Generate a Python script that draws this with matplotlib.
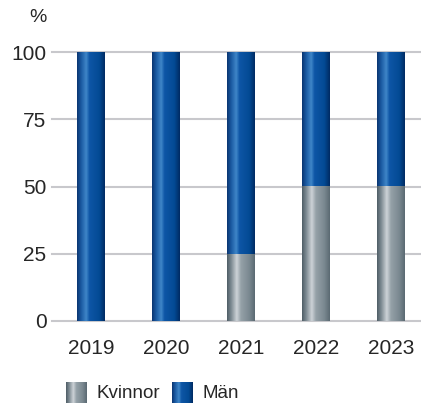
import numpy as np
import matplotlib.pyplot as plt
from matplotlib.colors import LinearSegmentedColormap

years = ["2019", "2020", "2021", "2022", "2023"]
kvinnor = [0, 0, 25, 50, 50]
man = [100, 100, 75, 50, 50]
yticks = [0, 25, 50, 75, 100]

plt.rcParams['font.family'] = ['Liberation Sans', 'DejaVu Sans']

# horizontal gradients to mimic the shaded bars
gray_cmap = LinearSegmentedColormap.from_list("g", [
    (0.0, "#4e5d66"), (0.15, "#7d8a92"), (0.35, "#cdd3d7"),
    (0.5, "#95a1a8"), (0.8, "#7a8890"), (1.0, "#5a6972")])
blue_cmap = LinearSegmentedColormap.from_list("b", [
    (0.0, "#0a3470"), (0.15, "#1a5aa2"), (0.33, "#3f86c8"),
    (0.45, "#0e56a6"), (0.8, "#034a94"), (1.0, "#002a62")])
grad = np.linspace(0, 1, 256).reshape(1, -1)

fig = plt.figure(figsize=(4.21, 4.03), dpi=100)
ax = fig.add_axes([52 / 421, 82 / 403, 369 / 421, 269 / 403])

for y in yticks:
    ax.axhline(y, color="#c8c8cc", lw=1.5, zorder=0, clip_on=False)

w = 0.37
x = np.arange(len(years))
bars_k = ax.bar(x, kvinnor, width=w, color="none")
bars_m = ax.bar(x, man, width=w, bottom=kvinnor, color="none")
for bars, cmap in [(bars_k, gray_cmap), (bars_m, blue_cmap)]:
    for b in bars:
        if b.get_height() <= 0:
            continue
        x0, y0 = b.get_x(), b.get_y()
        ax.imshow(grad, cmap=cmap, aspect="auto", zorder=2,
                  extent=(x0, x0 + b.get_width(), y0, y0 + b.get_height()))
ax.set_xlim(-0.52, 4.4)
ax.set_ylim(0, 100)

ax.set_xticks(x)
ax.set_xticklabels(years, fontsize=15, color="#262626")
ax.set_yticks(yticks)
ax.set_yticklabels([str(v) for v in yticks], fontsize=15, color="#262626")
ax.tick_params(length=0)
ax.tick_params(axis="y", pad=4)
ax.tick_params(axis="x", pad=13)
for s in ax.spines.values():
    s.set_visible(False)

fig.text(47 / 421, 1 - 18 / 403, "%", fontsize=14, color="#262626",
         ha="right", va="center")

# legend with gradient swatches
for px, cmap, label in [(66, gray_cmap, "Kvinnor"), (172, blue_cmap, "Män")]:
    lax = fig.add_axes([px / 421, 0 / 403, 21 / 421, 21 / 403])
    lax.imshow(grad, cmap=cmap, aspect="auto")
    lax.axis("off")
    fig.text((px + 31) / 421, 10 / 403, label, fontsize=13.5, color="#262626",
             ha="left", va="center")

fig.savefig("out.png", dpi=100)
